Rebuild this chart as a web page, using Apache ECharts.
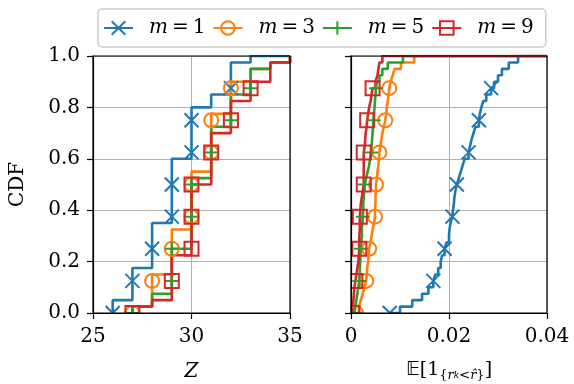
<!DOCTYPE html>
<html>
<head>
<meta charset="utf-8">
<script src="https://cdn.jsdelivr.net/npm/echarts@6/dist/echarts.min.js"></script>
<style>
  html, body { margin: 0; padding: 0; background: #fff; }
  #chart { width: 574px; height: 384px; }
</style>
</head>
<body>
<div id="chart"></div>
<script>
// Legend names and colours, one per m
const seriesNames = ['m = 1', 'm = 3', 'm = 5', 'm = 9'];
const seriesColors = ['#1f77b4', '#ff7f0e', '#2ca02c', '#d62728'];

// Sorted samples of Z for each m (41 runs each)
const zM1 = [26, 26, 26, 27, 27, 27, 27, 27, 28, 28, 28, 28, 28, 28, 28,
  29, 29, 29, 29, 29, 29, 29, 29, 29, 29, 30, 30, 30, 30, 30, 30, 30, 30,
  31, 31, 32, 32, 32, 32, 32, 33];
const zM3 = [27, 27, 28, 28, 28, 28, 28, 29, 29, 29, 29, 29, 29, 29,
  30, 30, 30, 30, 30, 30, 30, 30, 30, 31, 31, 31, 31, 31, 31, 31, 31, 31,
  32, 32, 32, 32, 32, 33, 33, 34, 35];
const zM5 = [27, 27, 28, 28, 29, 29, 29, 29, 29, 29, 29,
  30, 30, 30, 30, 30, 30, 30, 30, 30, 30, 30, 31, 31, 31, 31, 31, 31, 31, 31,
  32, 32, 32, 32, 32, 33, 33, 33, 33, 34, 35];
const zM9 = [27, 27, 28, 29, 29, 29, 29, 29, 29, 29,
  30, 30, 30, 30, 30, 30, 30, 30, 30, 30, 30, 31, 31, 31, 31, 31, 31, 31, 31,
  32, 32, 32, 32, 32, 33, 33, 33, 34, 34, 34, 35];

// Sorted samples of E[1{r_k < r^}] for each m
const eM1 = [0.0079, 0.0100, 0.0125, 0.0145, 0.0158, 0.0168, 0.0172, 0.0178,
  0.0183, 0.0186, 0.0191, 0.0195, 0.0200, 0.0201, 0.0203, 0.0207, 0.0208,
  0.0210, 0.0211, 0.0213, 0.0216, 0.0220, 0.0224, 0.0228, 0.0232, 0.0240,
  0.0243, 0.0246, 0.0250, 0.0254, 0.0261, 0.0263, 0.0266, 0.0270, 0.0276,
  0.0286, 0.0292, 0.0300, 0.0308, 0.0322, 0.0341];
const eM3 = [0.0010, 0.0016, 0.0020, 0.0024, 0.0028, 0.0031, 0.0032, 0.0033,
  0.0035, 0.0036, 0.0037, 0.0040, 0.0042, 0.0044, 0.0047, 0.0049, 0.0049,
  0.0050, 0.0050, 0.0051, 0.0051, 0.0053, 0.0054, 0.0056, 0.0057, 0.0058,
  0.0060, 0.0062, 0.0064, 0.0067, 0.0070, 0.0072, 0.0073, 0.0075, 0.0077,
  0.0078, 0.0081, 0.0085, 0.0089, 0.0102, 0.0129];
const eM5 = [0.0007, 0.0009, 0.0011, 0.0013, 0.0015, 0.0017, 0.0018, 0.0018,
  0.0019, 0.0019, 0.0020, 0.0021, 0.0022, 0.0022, 0.0023, 0.0024, 0.0025,
  0.0025, 0.0026, 0.0027, 0.0028, 0.0031, 0.0034, 0.0037, 0.0039, 0.0041,
  0.0042, 0.0043, 0.0044, 0.0045, 0.0046, 0.0047, 0.0048, 0.0049, 0.0050,
  0.0051, 0.0053, 0.0058, 0.0064, 0.0075, 0.0106];
const eM9 = [0.0003, 0.0004, 0.0005, 0.0006, 0.0007, 0.0009, 0.0011, 0.0013,
  0.0015, 0.0016, 0.0017, 0.0017, 0.0017, 0.0018, 0.0018, 0.0018, 0.0019,
  0.0020, 0.0022, 0.0024, 0.0026, 0.0026, 0.0026, 0.0026, 0.0026, 0.0026,
  0.0028, 0.0029, 0.0030, 0.0032, 0.0033, 0.0035, 0.0037, 0.0040, 0.0042,
  0.0044, 0.0050, 0.0054, 0.0056, 0.0058, 0.0064];

// Axis ranges
const zRange = { min: 25, max: 35, interval: 5 };
const eRange = { min: 0, max: 0.04, interval: 0.02 };
const cdfRange = { min: 0, max: 1, interval: 0.2 };
const markEvery = 5;

const zSamples = [zM1, zM3, zM5, zM9];
const eSamples = [eM1, eM3, eM5, eM9];

const symbolShapes = [
  'path://M0,0L10,10M10,0L0,10',
  'circle',
  'path://M5,0L5,10M0,5L10,5',
  'rect'
];

const FONT = 'DejaVu Serif';

// Empirical CDF points: the k-th sorted sample sits at k/(n-1);
// a marker on every markEvery-th sample, the step held to the axis end.
function ecdf(samples, xMax) {
  const n = samples.length;
  const pts = samples.map(function (x, i) {
    const item = { value: [x, i / (n - 1)] };
    if (!(i % markEvery === 0 && i < n - 1)) item.symbol = 'none';
    return item;
  });
  if (samples[n - 1] < xMax) pts.push({ value: [xMax, 1], symbol: 'none' });
  return pts;
}

// Frame, ticks and labels live on an upper layer; grid lines stay underneath the curves.
function mainX(gridIndex, range, fmt, name, nameGap, nameStyle) {
  return {
    type: 'value', gridIndex: gridIndex, position: 'bottom',
    min: range.min, max: range.max, interval: range.interval, zlevel: 1, z: 10,
    axisLine: { show: true, onZero: false, lineStyle: { color: '#000', width: 1.2 } },
    axisTick: { show: true, length: 6, lineStyle: { color: '#000', width: 1.2 } },
    axisLabel: { show: true, margin: 14, color: '#000', fontFamily: FONT, fontSize: 20, formatter: fmt },
    splitLine: { show: false },
    name: name, nameLocation: 'middle', nameGap: nameGap, nameTextStyle: nameStyle
  };
}
function gridX(gridIndex, range) {
  return {
    type: 'value', gridIndex: gridIndex, position: 'top',
    min: range.min, max: range.max, interval: range.interval, z: 0,
    axisLine: { show: false }, axisTick: { show: false }, axisLabel: { show: false },
    splitLine: { show: true, lineStyle: { color: '#b0b0b0', width: 1 } }
  };
}
function mainY(gridIndex, showLabels) {
  return {
    type: 'value', gridIndex: gridIndex, position: 'left',
    min: cdfRange.min, max: cdfRange.max, interval: cdfRange.interval, zlevel: 1, z: 10,
    axisLine: { show: true, onZero: false, lineStyle: { color: '#000', width: 1.2 } },
    axisTick: { show: true, length: 6, lineStyle: { color: '#000', width: 1.2 } },
    axisLabel: { show: showLabels, margin: 13, color: '#000', fontFamily: FONT, fontSize: 20,
      formatter: function (v) { return v.toFixed(1); } },
    splitLine: { show: false },
    name: showLabels ? 'CDF' : '', nameLocation: 'middle', nameGap: 65, nameRotate: 90,
    nameTextStyle: { color: '#000', fontFamily: FONT, fontSize: 20 }
  };
}
function gridY(gridIndex) {
  return {
    type: 'value', gridIndex: gridIndex, position: 'right',
    min: cdfRange.min, max: cdfRange.max, interval: cdfRange.interval, z: 0,
    axisLine: { show: false }, axisTick: { show: false }, axisLabel: { show: false },
    splitLine: { show: true, lineStyle: { color: '#b0b0b0', width: 1 } }
  };
}

const series = [];
[[zSamples, zRange, 0], [eSamples, eRange, 2]].forEach(function (panel) {
  const sets = panel[0], range = panel[1], axisIdx = panel[2];
  sets.forEach(function (samples, k) {
    series.push({
      type: 'line',
      name: seriesNames[k],
      xAxisIndex: axisIdx,
      yAxisIndex: axisIdx,
      step: 'end',
      data: ecdf(samples, range.max),
      symbol: symbolShapes[k],
      symbolSize: 14,
      showSymbol: true,
      clip: true,
      z: 2,
      lineStyle: { color: seriesColors[k], width: 2.6 },
      itemStyle: { color: 'rgba(0,0,0,0)', borderColor: seriesColors[k], borderWidth: 2 },
      emphasis: { disabled: true },
      animation: false
    });
  });
});

const chart = echarts.init(document.getElementById('chart'), null, { renderer: 'canvas' });
chart.setOption({
  backgroundColor: '#fff',
  animation: false,
  grid: [
    { left: 93, top: 56, width: 197, height: 257, show: true, zlevel: 1, z: 10,
      outerBoundsMode: 'none', containLabel: false,
      backgroundColor: 'transparent', borderColor: '#000', borderWidth: 1.2 },
    { left: 351, top: 56, width: 196, height: 257, show: true, zlevel: 1, z: 10,
      outerBoundsMode: 'none', containLabel: false,
      backgroundColor: 'transparent', borderColor: '#000', borderWidth: 1.2 }
  ],
  xAxis: [
    mainX(0, zRange, function (v) { return String(v); }, 'Z', 49,
      { color: '#000', fontFamily: FONT, fontSize: 20, fontStyle: 'italic' }),
    gridX(0, zRange),
    mainX(1, eRange, function (v) { return v === 0 ? '0' : v.toFixed(2); },
      '{bb|\u{1D53C}}{m|[1}{s|{}{si|r}{k|k}{s|<}{si|r\u0302}}{m|]}', 48,
      { color: '#000', fontFamily: FONT, fontSize: 13, lineHeight: 30,
        rich: {
          bb: { fontFamily: 'DejaVu Sans', fontSize: 19, lineHeight: 22, verticalAlign: 'top', color: '#000' },
          m: { fontFamily: FONT, fontSize: 19, lineHeight: 22, verticalAlign: 'top', color: '#000' },
          s: { fontFamily: FONT, fontSize: 13, lineHeight: 30, color: '#000' },
          si: { fontFamily: FONT, fontSize: 13, fontStyle: 'italic', lineHeight: 30, color: '#000' },
          k: { fontFamily: FONT, fontSize: 9, fontStyle: 'italic', lineHeight: 30, color: '#000' }
        } }),
    gridX(1, eRange)
  ],
  yAxis: [mainY(0, true), gridY(0), mainY(1, false), gridY(1)],
  legend: {
    data: seriesNames,
    left: 98, top: 9,
    orient: 'horizontal',
    selectedMode: false,
    itemWidth: 29, itemHeight: 17, itemGap: 7,
    padding: [9, 12, 9, 5],
    backgroundColor: '#fff',
    borderColor: '#cccccc', borderWidth: 1.5, borderRadius: 4,
    textStyle: {
      color: '#000', fontFamily: FONT, fontSize: 20, lineHeight: 20, padding: [0, 0, 0, 11],
      rich: { i: { fontFamily: FONT, fontSize: 20, fontStyle: 'italic', color: '#000' } }
    },
    formatter: function (name) { return '{i|m}' + name.slice(1).replace(/ /g, '\u2009'); }
  },
  // white bands just outside the plotting areas so markers sitting on an edge are cut at it
  graphic: [
    { type: 'rect', silent: true, z: 100, shape: { x: 80, y: 314, width: 225, height: 9 }, style: { fill: '#fff' } },
    { type: 'rect', silent: true, z: 100, shape: { x: 330, y: 314, width: 230, height: 9 }, style: { fill: '#fff' } },
    { type: 'rect', silent: true, z: 100, shape: { x: 300, y: 50, width: 50.3, height: 273 }, style: { fill: '#fff' } }
  ],
  series: series
});
</script>
</body>
</html>
